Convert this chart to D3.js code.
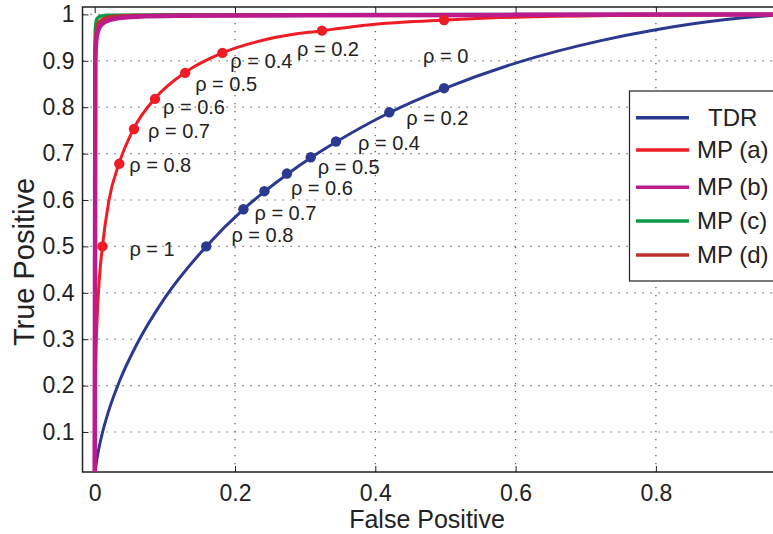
<!DOCTYPE html>
<html>
<head>
<meta charset="utf-8">
<script src="https://cdn.jsdelivr.net/npm/d3@7"></script>
<style>
  body { margin: 0; background: #fff; }
  text { font-family: "Liberation Sans", Arial, Helvetica, sans-serif; fill: #222; }
</style>
</head>
<body>
<div id="chart"></div>
<script>
// ---- data ----
var xTicks = [0, 0.2, 0.4, 0.6, 0.8];
var yTicks = [0.1, 0.2, 0.3, 0.4, 0.5, 0.6, 0.7, 0.8, 0.9, 1];

var tdrFP = [0, 0.001, 0.003, 0.006, 0.01, 0.02, 0.036, 0.06, 0.1, 0.159, 0.212, 0.242, 0.274, 0.308, 0.344, 0.42, 0.5, 0.6, 0.72, 0.8, 0.9, 0.97, 1];
var tdrTP = [0, 0.018, 0.040, 0.065, 0.092, 0.146, 0.212, 0.289, 0.389, 0.5, 0.58, 0.618, 0.655, 0.691, 0.725, 0.788, 0.841, 0.895, 0.943, 0.967, 0.989, 0.998, 1];

var mpaFP = [0, 0.0002, 0.0005, 0.001, 0.002, 0.004, 0.007, 0.011, 0.02, 0.035, 0.056, 0.086, 0.129, 0.182, 0.25, 0.324, 0.4, 0.5, 0.6, 0.75, 0.97, 1];
var mpaTP = [0, 0.107, 0.161, 0.215, 0.282, 0.362, 0.438, 0.5, 0.597, 0.68, 0.755, 0.819, 0.875, 0.917, 0.948, 0.965, 0.979, 0.988, 0.994, 0.998, 1, 1];

var mpbFP = [0, 0.0005, 0.001, 0.002, 0.004, 0.008, 0.015, 0.03, 0.06, 0.12, 0.3, 0.6, 1];
var mpbTP = [0, 0.5, 0.9, 0.94, 0.96, 0.975, 0.984, 0.991, 0.995, 0.997, 0.998, 0.999, 1];

var mpcFP = [0, 0.0003, 0.001, 0.003, 0.008, 0.02, 0.1, 1];
var mpcTP = [0, 0.9, 0.97, 0.99, 0.996, 0.998, 0.999, 1];

var mpdFP = [0, 0.0005, 0.002, 0.005, 0.012, 0.03, 0.1, 1];
var mpdTP = [0, 0.9, 0.96, 0.98, 0.99, 0.996, 0.998, 1];

var rhoValues = [1, 0.8, 0.7, 0.6, 0.5, 0.4, 0.2, 0];
var tdrDotFP = [0.159, 0.212, 0.242, 0.274, 0.308, 0.344, 0.42, 0.498];
var tdrDotTP = [0.5, 0.58, 0.619, 0.657, 0.692, 0.726, 0.789, 0.841];
var mpaDotFP = [0.011, 0.035, 0.056, 0.086, 0.129, 0.182, 0.324, 0.498];
var mpaDotTP = [0.5, 0.678, 0.753, 0.818, 0.874, 0.917, 0.965, 0.988];

var seriesNames = ["TDR", "MP (a)", "MP (b)", "MP (c)", "MP (d)"];

// ---- layout ----
var width = 773, height = 534;
var plotLeft = 82.5, plotTop = 7, plotBottom = 472, plotRight = 810;

var colors = {"TDR": "#2b3990", "MP (a)": "#ee1d25", "MP (b)": "#bd1a8d", "MP (c)": "#0e9a4b", "MP (d)": "#c1312b"};
var widths = {"TDR": 3, "MP (a)": 3, "MP (b)": 4.5, "MP (c)": 3.5, "MP (d)": 3.5};

// label offsets (px) from each dot, same order as rhoValues
var redLabelOff = [[27, 10], [10, 8], [14, 9], [8, 15], [10, 18], [8, 15], [-25, 25], [-21, 43]];
var blueLabelOff = [null, [-12, 33], [-10, 29], [4, 21], [7, 17], [22, 8], [17, 13], null];

var x = d3.scaleLinear().domain([0, 1]).range([94.7, 796.2]);
var y = d3.scaleLinear().domain([0, 1]).range([478.4, 14.4]);

var svg = d3.select("#chart").append("svg")
    .attr("width", width)
    .attr("height", height);

svg.append("defs").append("clipPath").attr("id", "plotclip")
  .append("rect")
    .attr("x", plotLeft).attr("y", plotTop)
    .attr("width", plotRight - plotLeft).attr("height", plotBottom - plotTop);

// grid
var grid = svg.append("g").attr("class", "grid");
grid.selectAll(".vgrid")
    .data(xTicks.filter(function(d) { return d > 0; }))
  .enter().append("line")
    .attr("x1", function(d) { return x(d); }).attr("x2", function(d) { return x(d); })
    .attr("y1", plotTop).attr("y2", plotBottom)
    .attr("stroke", "#555").attr("stroke-width", 1.2)
    .attr("stroke-dasharray", "1.2,6.8");
grid.selectAll(".hgrid")
    .data(yTicks)
  .enter().append("line")
    .attr("x1", plotLeft).attr("x2", plotRight)
    .attr("y1", function(d) { return y(d); }).attr("y2", function(d) { return y(d); })
    .attr("stroke", "#555").attr("stroke-width", 1.2)
    .attr("stroke-dasharray", "1.2,6.8");

// axes (inward ticks, matlab style)
var xAxis = svg.append("g")
    .attr("transform", "translate(0," + plotBottom + ")")
    .call(d3.axisBottom(x).tickValues(xTicks).tickSize(-6).tickPadding(13)
      .tickFormat(function(d) { return d === 0 ? "0" : d3.format(".1f")(d); }));
xAxis.select(".domain").remove();
xAxis.selectAll("text").style("font-size", "23px").attr("fill", "#222");
xAxis.selectAll("line").attr("stroke", "#222");

var xTop = svg.append("g")
    .attr("transform", "translate(0," + plotTop + ")")
    .call(d3.axisTop(x).tickValues(xTicks).tickSize(-6).tickFormat(""));
xTop.select(".domain").remove();
xTop.selectAll("line").attr("stroke", "#222");

var yAxis = svg.append("g")
    .attr("transform", "translate(" + plotLeft + ",0)")
    .call(d3.axisLeft(y).tickValues(yTicks).tickSize(-6).tickPadding(8)
      .tickFormat(function(d) { return d === 1 ? "1" : d3.format(".1f")(d); }));
yAxis.select(".domain").remove();
yAxis.selectAll("text").style("font-size", "23px").attr("fill", "#222");
yAxis.selectAll("line").attr("stroke", "#222");

// frame
svg.append("path")
    .attr("d", "M" + plotRight + "," + plotTop + "H" + plotLeft + "V" + plotBottom + "H" + plotRight)
    .attr("fill", "none").attr("stroke", "#222").attr("stroke-width", 1.5);

// curves
var line = d3.line()
    .x(function(d) { return x(d[0]); })
    .y(function(d) { return y(d[1]); })
    .curve(d3.curveMonotoneX);

function pairs(a, b) { return a.map(function(v, i) { return [v, b[i]]; }); }

var curves = svg.append("g").attr("clip-path", "url(#plotclip)");
var order = [["TDR", tdrFP, tdrTP], ["MP (a)", mpaFP, mpaTP], ["MP (c)", mpcFP, mpcTP],
             ["MP (d)", mpdFP, mpdTP], ["MP (b)", mpbFP, mpbTP]];
order.forEach(function(s) {
  curves.append("path")
      .datum(pairs(s[1], s[2]))
      .attr("fill", "none")
      .attr("stroke", colors[s[0]])
      .attr("stroke-width", widths[s[0]])
      .attr("stroke-linejoin", "round")
      .attr("d", line);
});

// rho markers
curves.selectAll(".dotb")
    .data(pairs(tdrDotFP, tdrDotTP))
  .enter().append("circle")
    .attr("cx", function(d) { return x(d[0]); })
    .attr("cy", function(d) { return y(d[1]); })
    .attr("r", 5.2).attr("fill", colors["TDR"]);
curves.selectAll(".dotr")
    .data(pairs(mpaDotFP, mpaDotTP))
  .enter().append("circle")
    .attr("cx", function(d) { return x(d[0]); })
    .attr("cy", function(d) { return y(d[1]); })
    .attr("r", 5.2).attr("fill", colors["MP (a)"]);

// rho labels
var labels = svg.append("g").style("font-size", "20px");
rhoValues.forEach(function(r, i) {
  var o = redLabelOff[i];
  labels.append("text")
      .attr("x", x(mpaDotFP[i]) + o[0])
      .attr("y", y(mpaDotTP[i]) + o[1])
      .text("\u03c1 = " + r);
  var b = blueLabelOff[i];
  if (b) {
    labels.append("text")
        .attr("x", x(tdrDotFP[i]) + b[0])
        .attr("y", y(tdrDotTP[i]) + b[1])
        .text("\u03c1 = " + r);
  }
});

// legend
var legendRows = [117.7, 150, 187.3, 221, 255];
var legend = svg.append("g");
legend.append("rect")
    .attr("x", 629.5).attr("y", 91)
    .attr("width", 200).attr("height", 190)
    .attr("fill", "#fff").attr("stroke", "#222").attr("stroke-width", 1.2);
seriesNames.forEach(function(n, i) {
  legend.append("line")
      .attr("x1", 636).attr("x2", 689)
      .attr("y1", legendRows[i]).attr("y2", legendRows[i])
      .attr("stroke", colors[n]).attr("stroke-width", 3.5);
  legend.append("text")
      .attr("x", i === 0 ? 708 : 697)
      .attr("y", legendRows[i] + 8)
      .style("font-size", "24px")
      .text(n);
});

// axis labels
svg.append("text")
    .attr("x", 427).attr("y", 528)
    .attr("text-anchor", "middle")
    .style("font-size", "25px")
    .text("False Positive");

svg.append("text")
    .attr("transform", "translate(34,262) rotate(-90)")
    .attr("text-anchor", "middle")
    .style("font-size", "29px")
    .text("True Positive");
</script>
</body>
</html>
